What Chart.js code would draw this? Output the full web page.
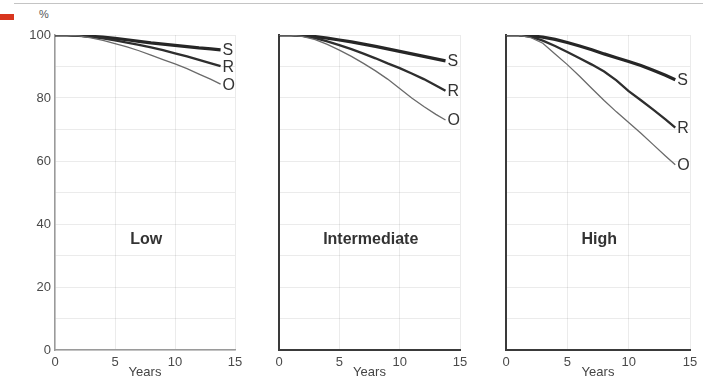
<!DOCTYPE html>
<html>
<head>
<meta charset="utf-8">
<script src="https://cdn.jsdelivr.net/npm/chart.js@4.4.0/dist/chart.umd.min.js"></script>
<style>
  html, body { margin:0; padding:0; background:#fff; }
  body { width:703px; height:379px; position:relative; overflow:hidden; font-family:"Liberation Sans", Arial, sans-serif; }
  canvas { position:absolute; top:0; }
  #topline { position:absolute; left:14px; top:3px; width:689px; height:1px; background:#c4c4c4; }
  #redbar { position:absolute; left:0; top:14px; width:14px; height:6px; background:#d8351e; }
  #pct { position:absolute; left:39px; top:8px; font-size:11px; color:#555; }
</style>
</head>
<body>
<div id="topline"></div>
<div id="redbar"></div>
<div id="pct">%</div>
<canvas id="c1" width="250" height="379" style="left:0px"></canvas>
<canvas id="c2" width="225" height="379" style="left:250px"></canvas>
<canvas id="c3" width="228" height="379" style="left:475px"></canvas>
<script>
// ---- data ----
const years = [0, 1, 2, 3, 4, 5, 6, 7, 8, 9, 10, 11, 12, 13, 13.8];
const xTicks = [0, 5, 10, 15];
const yTickLabels = [0, 20, 40, 60, 80, 100];
const seriesNames = ['S', 'R', 'O'];
const panelTitles = ['Low', 'Intermediate', 'High'];

const lowS  = [100, 100, 99.9, 99.6, 99.3, 98.9, 98.5, 98.0, 97.5, 97.1, 96.7, 96.3, 95.9, 95.6, 95.3];
const lowR  = [100, 100, 99.8, 99.4, 98.9, 98.3, 97.6, 96.9, 96.1, 95.2, 94.2, 93.2, 92.1, 91.0, 90.1];
const lowO  = [100, 100, 99.7, 99.1, 98.3, 97.3, 96.2, 95.0, 93.6, 92.2, 90.8, 89.3, 87.6, 85.9, 84.4];

const intS  = [100, 100, 99.9, 99.5, 99.0, 98.4, 97.8, 97.1, 96.4, 95.6, 94.8, 94.0, 93.2, 92.4, 91.8];
const intR  = [100, 100, 99.7, 99.0, 98.0, 96.8, 95.5, 94.1, 92.6, 91.0, 89.5, 87.8, 86.0, 84.0, 82.3];
const intO  = [100, 100, 99.5, 98.5, 97.0, 95.2, 93.2, 91.0, 88.6, 86.0, 83.0, 80.0, 77.3, 74.8, 73.0];

const highS = [100, 100, 99.8, 99.3, 98.6, 97.6, 96.5, 95.3, 94.0, 92.8, 91.6, 90.3, 88.8, 87.2, 85.8];
const highR = [100, 100, 99.5, 98.2, 96.5, 94.6, 92.6, 90.6, 88.4, 85.6, 82.2, 79.3, 76.3, 73.2, 70.6];
const highO = [100, 100, 99.2, 97.4, 94.0, 90.6, 86.9, 83.0, 79.2, 75.6, 72.2, 68.8, 65.2, 61.6, 58.8];

// ---- styles ----
const lineStyles = [
  { color: '#262626', width: 3.2 },
  { color: '#2e2e2e', width: 2.3 },
  { color: '#6a6a6a', width: 1.3 }
];
const FONT = '"Liberation Sans", Arial, sans-serif';

const annot = {
  id: 'annot',
  afterDatasetsDraw(chart, args, opts) {
    const ctx = chart.ctx;
    ctx.save();
    ctx.fillStyle = '#333';
    ctx.font = '16px ' + FONT;
    ctx.textBaseline = 'middle';
    ctx.textAlign = 'left';
    chart.data.datasets.forEach((ds, i) => {
      const meta = chart.getDatasetMeta(i);
      const pt = meta.data[meta.data.length - 1];
      ctx.fillText(ds.label, pt.x + 2, pt.y + 1);
    });
    const xs = chart.scales.x, ys = chart.scales.y;
    ctx.font = 'bold 16px ' + FONT;
    ctx.textAlign = 'center';
    ctx.fillText(opts.title, xs.getPixelForValue(opts.tx), ys.getPixelForValue(opts.ty));
    ctx.restore();
  }
};

function build(id, values, title, yWidth, padRight, showY, axisBorder) {
  const datasets = values.map((v, i) => ({
    label: seriesNames[i],
    data: years.map((yr, k) => ({ x: yr, y: v[k] })),
    borderColor: lineStyles[i].color,
    borderWidth: lineStyles[i].width,
    pointRadius: 0,
    tension: 0,
    fill: false
  })).reverse();
  new Chart(document.getElementById(id), {
    type: 'line',
    data: { datasets },
    options: {
      responsive: false,
      animation: false,
      devicePixelRatio: 1,
      layout: { padding: { left: 0, right: padRight, top: 35, bottom: 0 } },
      plugins: {
        legend: { display: false },
        tooltip: { enabled: false },
        annot: { title: title, tx: 7.6, ty: 35 }
      },
      scales: {
        x: {
          type: 'linear', min: 0, max: 15,
          afterBuildTicks: s => { s.ticks = xTicks.map(v => ({ value: v })); },
          ticks: { color: '#4a4a4a', font: { size: 13, family: FONT }, padding: 5, maxRotation: 0 },
          grid: { color: 'rgba(0,0,0,0.08)', drawTicks: false, lineWidth: 1 },
          border: axisBorder,
          title: { display: true, text: 'Years', color: '#444', font: { size: 13, family: FONT }, padding: { top: 0, bottom: -1 } },
          afterFit: s => { s.height = 29; s.paddingLeft = 0; s.paddingRight = 0; }
        },
        y: {
          type: 'linear', min: 0, max: 100,
          ticks: {
            display: showY, stepSize: 10, color: '#4a4a4a', font: { size: 13, family: FONT }, padding: 4,
            callback: v => (yTickLabels.includes(v) ? String(v) : '')
          },
          grid: { color: 'rgba(0,0,0,0.08)', drawTicks: false, lineWidth: 1 },
          border: axisBorder,
          afterFit: s => { s.width = yWidth; s.paddingTop = 0; s.paddingBottom = 0; }
        }
      }
    },
    plugins: [annot]
  });
}

build('c1', [lowS, lowR, lowO], panelTitles[0], 55, 15, true, { color: '#9a9a9a', width: 1.5 });
build('c2', [intS, intR, intO], panelTitles[1], 29, 15, false, { color: '#3a3a3a', width: 2 });
build('c3', [highS, highR, highO], panelTitles[2], 31, 13, false, { color: '#3a3a3a', width: 2 });
</script>
</body>
</html>
